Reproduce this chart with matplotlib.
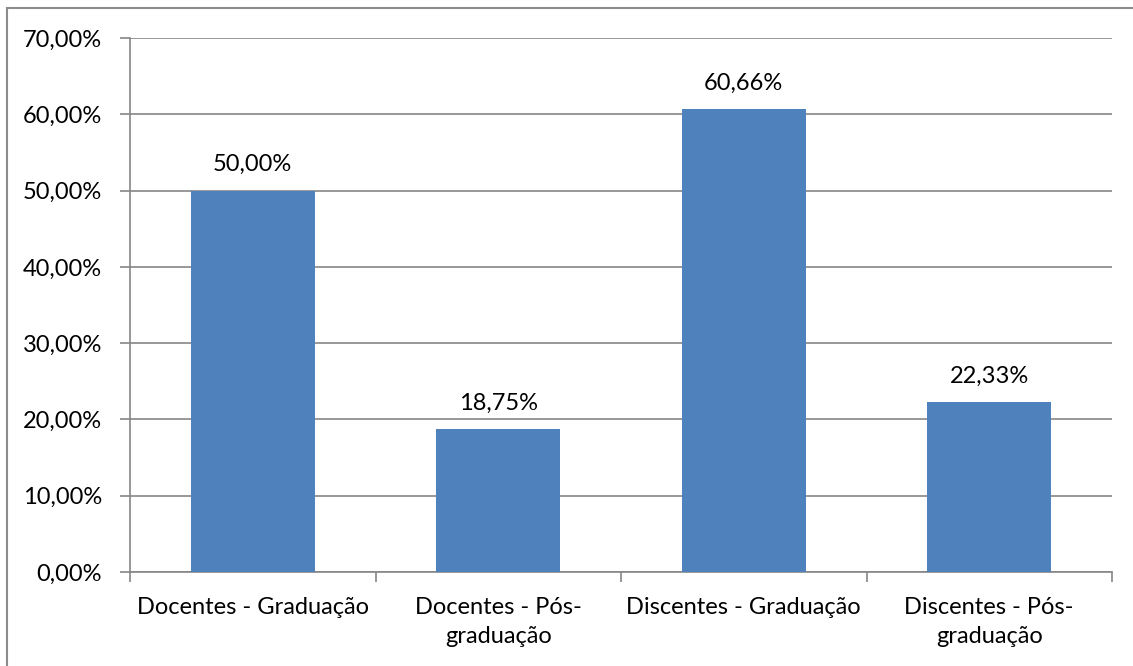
import matplotlib.pyplot as plt
import numpy as np
from matplotlib.patches import Rectangle

categorias = ['Docentes - Graduação', 'Docentes - Pós-\ngraduação',
              'Discentes - Graduação', 'Discentes - Pós-\ngraduação']
valores = [50.00, 18.75, 60.66, 22.33]
yticks = [0, 10, 20, 30, 40, 50, 60, 70]

plt.rcParams['font.family'] = ['Lato', 'DejaVu Sans']

fig = plt.figure(figsize=(11.33, 6.66), dpi=100)
ax = fig.add_axes([130/1133, 94/666, 982/1133, 534/666])

# borda da figura
fig.patches.append(Rectangle((7/1133, -0.01), 1.1, (666-7.5)/666 + 0.01,
                             transform=fig.transFigure, fill=False,
                             edgecolor='#8c8c8c', linewidth=1.5))

x = np.arange(len(categorias))
ax.bar(x, valores, width=0.505, color='#4F81BD', zorder=3)

for xi, v in zip(x, valores):
    ax.text(xi, v + 2.0, ('%.2f%%' % v).replace('.', ','), ha='center',
            va='bottom', fontsize=17)

ax.set_xlim(-0.5, len(categorias) - 0.5)
ax.set_ylim(0, 70)
ax.set_yticks(yticks)
ax.set_yticklabels([('%.2f%%' % t).replace('.', ',') for t in yticks], fontsize=17)
ax.yaxis.grid(True, color='#868686', linewidth=1.2, zorder=0)

ax.set_xticks(x)
ax.set_xticklabels(categorias, fontsize=17, linespacing=1.45)
ax.tick_params(axis='x', length=0, pad=18)
ax.set_xticks(np.arange(-0.5, len(categorias)), minor=True)
ax.tick_params(axis='x', which='minor', length=7, color='#868686', width=1.2)
ax.tick_params(axis='y', length=7, color='#868686', width=1.2, pad=13)

for s in ['top', 'right']:
    ax.spines[s].set_visible(False)
for s in ['left', 'bottom']:
    ax.spines[s].set_color('#868686')
    ax.spines[s].set_linewidth(1.2)

fig.savefig('out.png', dpi=100)
